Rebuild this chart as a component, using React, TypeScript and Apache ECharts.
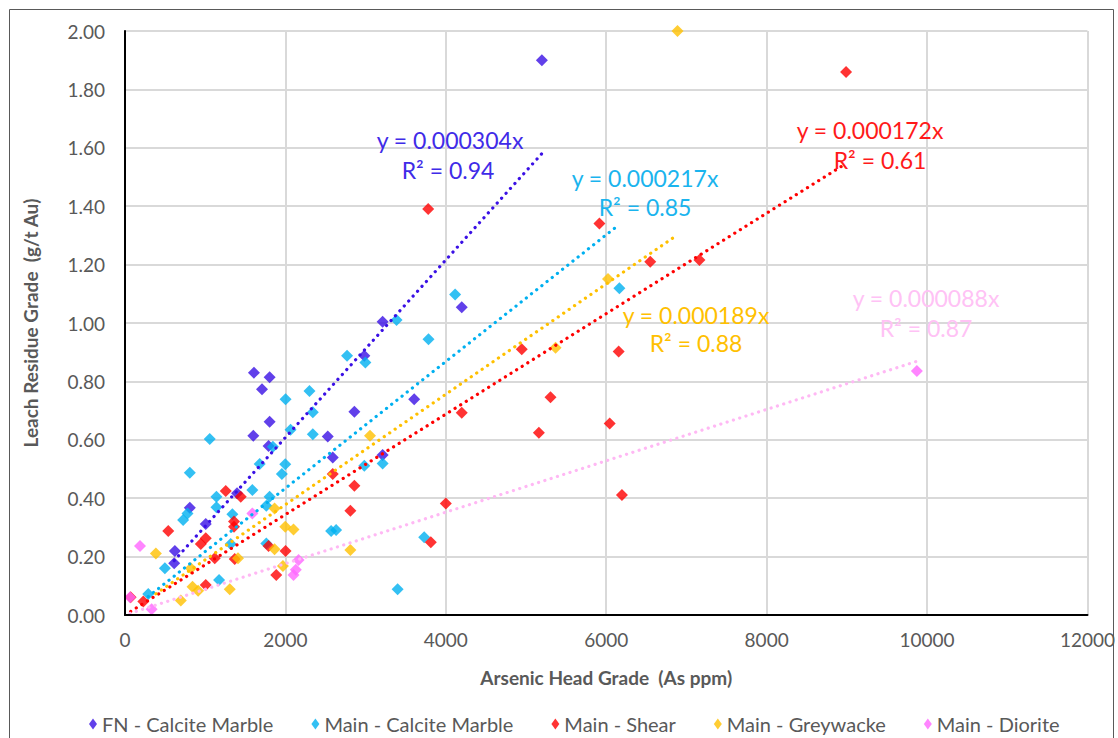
import React, { useEffect, useRef } from "react";
import * as echarts from "echarts";

const seriesNames = [
  "FN - Calcite Marble",
  "Main - Calcite Marble",
  "Main - Shear",
  "Main - Greywacke",
  "Main - Diorite",
];

const fnCalcite: number[][] = [
  [5198, 1.9], [4199, 1.054], [3212, 1.004], [2984, 0.888], [3606, 0.739], [2860, 0.696],
  [2528, 0.611], [2590, 0.539], [3212, 0.548], [1608, 0.83], [1803, 0.814], [1708, 0.773],
  [1803, 0.662], [1600, 0.614], [1790, 0.579], [1397, 0.417], [808, 0.367], [1007, 0.312],
  [622, 0.219], [613, 0.177],
];

const mainCalcite: number[][] = [
  [6164, 1.119], [4116, 1.098], [3784, 0.944], [3386, 1.01], [2769, 0.888], [2997, 0.865],
  [2300, 0.767], [2002, 0.739], [2342, 0.694], [2342, 0.619], [2064, 0.634], [1057, 0.603],
  [1844, 0.576], [1679, 0.517], [1998, 0.516], [1956, 0.483], [808, 0.487], [1588, 0.428],
  [1140, 0.405], [1803, 0.405], [1762, 0.374], [1140, 0.369], [779, 0.348], [725, 0.325],
  [1339, 0.345], [2984, 0.511], [3212, 0.519], [2570, 0.288], [2632, 0.291], [3730, 0.266],
  [3399, 0.088], [1318, 0.243], [1762, 0.245], [497, 0.16], [1173, 0.12], [290, 0.072],
];

const mainShear: number[][] = [
  [8990, 1.86], [3780, 1.39], [5915, 1.341], [6549, 1.21], [7162, 1.216], [4947, 0.91],
  [6155, 0.902], [5305, 0.746], [4199, 0.693], [6043, 0.656], [5160, 0.624], [6196, 0.411],
  [4000, 0.382], [3813, 0.249], [2590, 0.483], [2860, 0.443], [2810, 0.357], [1256, 0.425],
  [1443, 0.405], [539, 0.288], [1359, 0.32], [1359, 0.302], [1007, 0.263], [945, 0.243],
  [1119, 0.194], [1368, 0.192], [2002, 0.219], [1790, 0.236], [1886, 0.137], [1007, 0.103],
  [228, 0.046], [70, 0.061],
];

const mainGreywacke: number[][] = [
  [6889, 2.0], [6022, 1.151], [5368, 0.915], [3055, 0.614], [1865, 0.365], [1998, 0.302],
  [2101, 0.293], [385, 0.211], [821, 0.16], [1409, 0.194], [1865, 0.225], [1969, 0.168],
  [842, 0.097], [912, 0.083], [1306, 0.088], [696, 0.05], [2810, 0.223],
];

const mainDiorite: number[][] = [
  [9873, 0.836], [1588, 0.348], [187, 0.236], [2164, 0.188], [2101, 0.137], [2130, 0.155],
  [62, 0.061], [332, 0.02],
];

const slopes = [0.000304, 0.000217, 0.000172, 0.000189, 0.000088];
const rSquared = ["0.94", "0.85", "0.61", "0.88", "0.87"];
const xTicks = { min: 0, max: 12000, interval: 2000 };
const yTicks = { min: 0, max: 2, interval: 0.2 };

const markerColors = ["#3A10E5", "#00B0F0", "#FF0000", "#FFC000", "#FF66FF"];
const lineColors = ["#3A10E5", "#00B0F0", "#FF0000", "#FFC000", "#FFB8F4"];
const textColors = ["#3F2BE8", "#1AB4EE", "#FF1A1A", "#FFC000", "#FFC2F5"];

const FONT = "Lato, 'Open Sans', sans-serif";

export default function App() {
  const ref = useRef<HTMLDivElement>(null);
  useEffect(() => {
    if (!ref.current) return;
    const chart = echarts.init(ref.current, null, { renderer: "svg" });
    const datasets = [fnCalcite, mainCalcite, mainShear, mainGreywacke, mainDiorite];

    const scatterSeries = datasets.map((d, i) => ({
      name: seriesNames[i],
      type: "scatter",
      data: d,
      symbol: "diamond",
      symbolSize: 12,
      itemStyle: { color: markerColors[i] },
      z: 3,
    }));

    const trendSeries = datasets.map((d, i) => {
      const xs = d.map((p) => p[0]);
      const x0 = Math.min(...xs);
      const x1 = Math.max(...xs);
      return {
        name: seriesNames[i] + " trend",
        type: "line",
        data: [
          [x0, slopes[i] * x0],
          [x1, slopes[i] * x1],
        ],
        symbol: "none",
        lineStyle: { color: lineColors[i], width: 3.2, type: [0.1, 6.5], cap: "round" },
        silent: true,
        z: 4,
      };
    });

    const labelPos = [
      [450, 140, 448, 170],
      [645, 178, 645, 207],
      [870, 130, 880, 160],
      [696, 315, 696, 343],
      [926, 298, 926, 328],
    ];
    const eqTexts: any[] = [];
    labelPos.forEach((p, i) => {
      eqTexts.push({
        type: "text",
        x: p[0],
        y: p[1],
        style: {
          text: "y = " + slopes[i].toFixed(6) + "x",
          fill: textColors[i],
          font: `23px ${FONT}`,
          textAlign: "center",
          textVerticalAlign: "middle",
        },
        z: 10,
      });
      eqTexts.push({
        type: "text",
        x: p[2],
        y: p[3],
        style: {
          text: "R² = " + rSquared[i],
          fill: textColors[i],
          font: `23px ${FONT}`,
          textAlign: "center",
          textVerticalAlign: "middle",
        },
        z: 10,
      });
    });

    const frameAxis = {
      type: "value",
      axisLine: { show: true, lineStyle: { color: "#000000", width: 2 } },
      axisTick: { show: false },
      axisLabel: { show: false },
      splitLine: { show: false },
      z: 6,
    };

    chart.setOption({
      animation: false,
      backgroundColor: "#ffffff",
      textStyle: { fontFamily: FONT },
      grid: {
        left: 125,
        right: 28,
        top: 31,
        bottom: 123,
      },
      legend: {
        data: seriesNames,
        bottom: -1,
        left: 84,
        icon: "diamond",
        itemWidth: 8,
        itemHeight: 11,
        itemGap: 38,
        textStyle: { color: "#595959", fontSize: 20, fontFamily: FONT },
      },
      xAxis: [
        {
          type: "value",
          min: xTicks.min,
          max: xTicks.max,
          interval: xTicks.interval,
          name: "Arsenic Head Grade  (As ppm)",
          nameLocation: "middle",
          nameGap: 53,
          nameTextStyle: { color: "#595959", fontSize: 19, fontWeight: "bold", fontFamily: FONT },
          axisLine: { show: true, lineStyle: { color: "#BFBFBF", width: 2 } },
          axisTick: { show: false },
          axisLabel: {
            color: "#595959",
            fontSize: 19,
            margin: 15,
            fontFamily: FONT,
            formatter: (v: number) => String(v),
          },
          splitLine: { show: true, lineStyle: { color: "#D9D9D9", width: 2 } },
        },
        { ...frameAxis, position: "top", min: xTicks.min, max: xTicks.max },
      ],
      yAxis: [
        {
          type: "value",
          min: yTicks.min,
          max: yTicks.max,
          interval: yTicks.interval,
          name: "Leach Residue Grade  (g/t Au)",
          nameLocation: "middle",
          nameGap: 85,
          nameRotate: 90,
          nameTextStyle: { color: "#595959", fontSize: 19, fontWeight: "bold", fontFamily: FONT },
          axisLine: { show: true, lineStyle: { color: "#BFBFBF", width: 2 } },
          axisTick: { show: false },
          axisLabel: {
            color: "#595959",
            fontSize: 19,
            margin: 20,
            fontFamily: FONT,
            formatter: (v: number) => v.toFixed(2),
          },
          splitLine: { show: true, lineStyle: { color: "#D9D9D9", width: 2 } },
        },
        { ...frameAxis, position: "right", min: yTicks.min, max: yTicks.max },
      ],
      graphic: [
        {
          type: "rect",
          left: 7,
          top: 7,
          shape: { x: 0, y: 0, width: 1104, height: 760 },
          style: { fill: "none", stroke: "#595959", lineWidth: 1 },
          silent: true,
          z: 0,
        },
        ...eqTexts,
      ],
      series: [...scatterSeries, ...trendSeries],
    });
    return () => chart.dispose();
  }, []);
  return (
    <div
      ref={ref}
      style={{ position: "fixed", left: 0, top: 0, width: 1118, height: 738, background: "#fff" }}
    />
  );
}
